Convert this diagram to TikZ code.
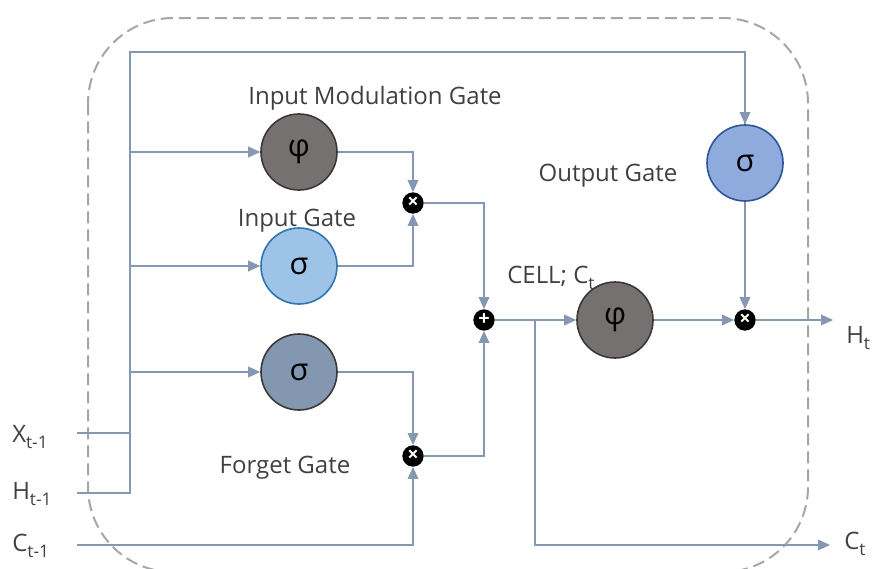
\documentclass[tikz,border=0pt]{standalone}
\usepackage{fontspec}
\setmainfont{Open Sans}
\usetikzlibrary{arrows.meta,calc}
\definecolor{wire}{HTML}{8597B3}
\definecolor{txt}{HTML}{404040}
\definecolor{dashc}{HTML}{A6A6A6}
\definecolor{phifill}{HTML}{767171}
\definecolor{philine}{HTML}{3B3838}
\definecolor{inpfill}{HTML}{9DC3E6}
\definecolor{inpline}{HTML}{2E75B6}
\definecolor{outfill}{HTML}{8FAADC}
\definecolor{outline}{HTML}{2F5597}
\definecolor{fgfill}{HTML}{8497B0}
\definecolor{fgline}{HTML}{3B3838}
\newcommand{\mysub}[1]{\raisebox{-0.45ex}{\fontsize{13}{13}\selectfont #1}}
\begin{document}
\begin{tikzpicture}[x=0.75pt,y=-0.75pt,
  wireline/.style={draw=wire,line width=1pt},
  arr/.style={wireline,-{Triangle[length=9pt,width=8pt]}},
  gate/.style={circle,minimum size=57pt,inner sep=0pt,line width=1.2pt,font=\fontsize{23}{23}\selectfont,text=black},
  op/.style={circle,fill=black,minimum size=16pt,inner sep=0pt,text=white,font=\bfseries\fontsize{15}{15}\selectfont},
  lab/.style={text=txt,font=\fontsize{18}{18}\selectfont,inner sep=0pt},
  io/.style={text=txt,font=\fontsize{18}{18}\selectfont,inner sep=0pt}]
\useasboundingbox (0,0) rectangle (873,568);
\draw[dashc,line width=1.5pt,dash pattern=on 9pt off 4.5pt,rounded corners=64pt] (88,18) rectangle (808,572);

% gates
\node[gate,fill=phifill,draw=philine] (imod) at (299,152) {φ};
\node[gate,fill=inpfill,draw=inpline] (ig) at (299,266) {σ};
\node[gate,fill=fgfill,draw=fgline] (fg) at (299,372) {σ};
\node[gate,fill=outfill,draw=outline] (og) at (745,163) {σ};
\node[gate,fill=phifill,draw=philine] (cphi) at (615,320) {φ};

\node[op] (m1) at (413,203) {×};
\node[op] (m2) at (413,456) {×};
\node[op] (pl) at (484,320) {+};
\node[op] (m3) at (745,320) {×};

% labels
\node[lab] (limod) at (375,98) {Input Modulation Gate};
\node[lab] (lig) at (297,221) {Input Gate};
\node[lab] (log) at (608,176) {Output Gate};
\node[lab] (lfg) at (285,468) {Forget Gate};
\node[lab,anchor=west] (lcell) at (507,278) {CELL; C\mysub{t}};

\node[io,anchor=west] (xin) at (12,437) {X\mysub{t-1}};
\node[io,anchor=west] (hin) at (12,494) {H\mysub{t-1}};
\node[io,anchor=west] (cin) at (12,546) {C\mysub{t-1}};
\node[io,anchor=west] (hout) at (846,338) {H\mysub{t}};
\node[io,anchor=west] (cout) at (844,544) {C\mysub{t}};

\coordinate (xs) at (77,433);
\coordinate (hs) at (77,493);
\coordinate (cs) at (77,545);
\coordinate (bus) at (130,493);
\coordinate (hend) at (833,320);
\coordinate (cend) at (830,545);

% input bus
\draw[wireline] (xs) -- (130,433);
\draw[wireline] (hs) -- (bus) -- (130,52) -| (og.north) ;
\draw[arr] (745,52) -- (og.north);
\draw[arr] (130,152) -- (imod.west);
\draw[arr] (130,266) -- (ig.west);
\draw[arr] (130,372) -- (fg.west);

% gate outputs
\draw[arr] (imod.east) -| (m1.north);
\draw[arr] (ig.east) -| (m1.south);
\draw[arr] (fg.east) -| (m2.north);
\draw[arr] (cs) -| (m2.south);
\draw[arr] (m1.east) -| (pl.north);
\draw[arr] (m2.east) -| (pl.south);
\draw[arr] (pl.east) -- (cphi.west);
\draw[arr] (535,320) |- (cend);
\draw[arr] (cphi.east) -- (m3.west);
\draw[arr] (og.south) -- (m3.north);
\draw[arr] (m3.east) -- (hend);
\end{tikzpicture}
\end{document}
